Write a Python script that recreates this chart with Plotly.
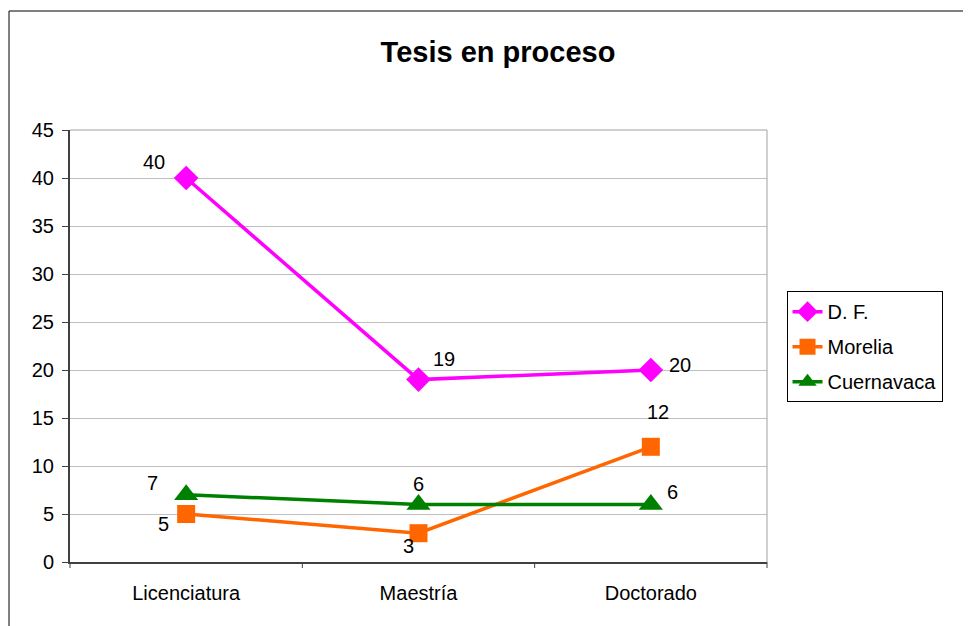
import plotly.graph_objects as go


CATEGORIES = ["Licenciatura", "Maestría", "Doctorado"]

DF_VALUES = [40, 19, 20]
MORELIA_VALUES = [5, 3, 12]
CUERNAVACA_VALUES = [7, 6, 6]

Y_TICKS = [0, 5, 10, 15, 20, 25, 30, 35, 40, 45]

FONT = "Liberation Sans, Arial, sans-serif"

# the page adds an 8px body margin, so the figure is shrunk to fit
PAGE_OFFSET = 8


def tesis_chart():
    """
    Line chart of theses in progress per campus.
    """

    fig = go.Figure()

    # name, values, color, marker, marker size, label offsets (px)
    series = [
        ("D. F.", DF_VALUES, "#FF00FF", "diamond", 19,
         [(-32, 16), (25, 21), (29, 5)]),
        ("Morelia", MORELIA_VALUES, "#FF6600", "square", 18,
         [(-23, -10), (-10, -13), (7, 35)]),
        ("Cuernavaca", CUERNAVACA_VALUES, "#008000", "triangle-up", 21,
         [(-34, 12), (0, 20), (22, 12)]),
    ]

    annotations = []

    for name, values, color, symbol, size, offsets in series:

        fig.add_scatter(
            x=[0, 1, 2],
            y=values,
            name=name,
            legendgroup=name,
            mode="lines+markers",
            line=dict(color=color, width=3.5),
            marker=dict(color=color, symbol=symbol, size=size),
            cliponaxis=False,
        )

        for i, (value, (dx, dy)) in enumerate(zip(values, offsets)):

            annotations.append(dict(
                x=i,
                y=value,
                text=str(value),
                showarrow=False,
                xshift=dx,
                yshift=dy,
                font=dict(family=FONT, size=20, color="black"),
            ))

    fig.update_layout(

        title=dict(
            text="<b>Tesis en proceso</b>",
            x=(498 - PAGE_OFFSET) / (971 - PAGE_OFFSET),
            xanchor="center",
            y=1 - (52 - PAGE_OFFSET) / (626 - PAGE_OFFSET),
            yanchor="middle",
            font=dict(family=FONT, size=29, color="black"),
        ),

        width=971 - PAGE_OFFSET,
        height=626 - PAGE_OFFSET,

        margin=dict(l=70 - PAGE_OFFSET, r=204, t=130 - PAGE_OFFSET, b=64),

        paper_bgcolor="white",
        plot_bgcolor="white",

        font=dict(family=FONT, size=20, color="black"),

        legend=dict(
            x=1.028,
            y=0.627,
            xanchor="left",
            yanchor="top",
            bordercolor="black",
            borderwidth=1,
            bgcolor="white",
            tracegroupgap=6,
            font=dict(family=FONT, size=20, color="black"),
        ),

        annotations=annotations,

        xaxis=dict(
            range=[-0.5, 2.5],
            tickmode="array",
            tickvals=[0, 1, 2],
            ticktext=CATEGORIES,
            showgrid=False,
            zeroline=False,
            showline=True,
            linecolor="#404040",
            linewidth=2,
            ticks="",
            ticklabelstandoff=12,
        ),

        yaxis=dict(
            range=[0, 45],
            tickmode="array",
            tickvals=Y_TICKS,
            showgrid=True,
            gridcolor="#C0C0C0",
            gridwidth=1,
            zeroline=False,
            showline=True,
            linecolor="#404040",
            linewidth=2,
            ticks="outside",
            ticklen=6,
            tickcolor="#404040",
            ticklabelstandoff=4,
        ),

        shapes=[
            # plot frame (top and right)
            dict(type="line", xref="paper", yref="paper",
                 x0=0, x1=1, y0=1, y1=1,
                 line=dict(color="#A0A0A0", width=1)),
            dict(type="line", xref="paper", yref="paper",
                 x0=1, x1=1, y0=0, y1=1,
                 line=dict(color="#A0A0A0", width=1)),
            # category tick marks
            *[
                dict(type="line", xref="paper", yref="paper",
                     x0=t / 3, x1=t / 3, y0=0, y1=-6 / 432,
                     line=dict(color="#404040", width=1))
                for t in range(4)
            ],
            # outer chart border
            dict(type="line", xref="paper", yref="paper",
                 x0=-61 / 697, x1=-61 / 697, y0=-0.2, y1=551 / 432,
                 line=dict(color="black", width=1)),
            dict(type="line", xref="paper", yref="paper",
                 x0=-61 / 697, x1=1.35, y0=551 / 432, y1=551 / 432,
                 line=dict(color="black", width=1)),
        ],
    )

    return fig


fig = tesis_chart()
fig.write_html("out.html")
